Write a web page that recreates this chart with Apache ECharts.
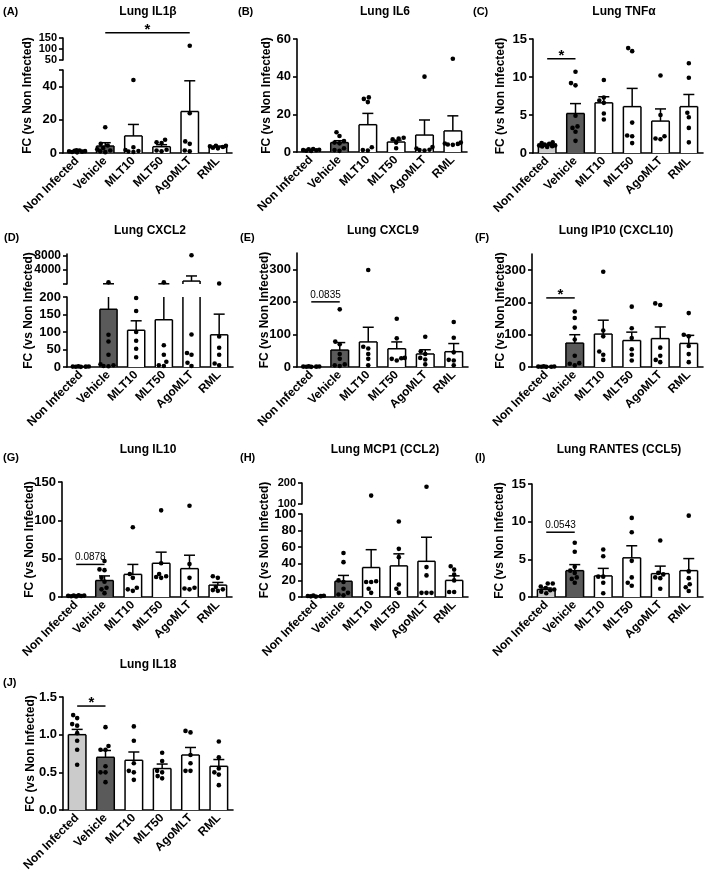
<!DOCTYPE html>
<html><head><meta charset="utf-8">
<script src="https://cdn.jsdelivr.net/npm/echarts@6/dist/echarts.min.js"></script>
<style>html,body{margin:0;padding:0;background:#fff;}#chart{width:709px;height:871px;}</style>
</head><body><div id="chart"></div>
<script>
const categories = ['Non Infected', 'Vehicle', 'MLT10', 'MLT50', 'AgoMLT', 'RML'];

// (A) IL1β
const il1bMean = [1.0, 4.2, 10.3, 3.8, 25.0, 3.6];
const il1bSem = [0.3, 2.0, 6.9, 1.2, 18.5, 0.6];
const il1bPts = [[0.4, 0.6, 0.8, 1.0, 1.1, 1.3, 1.5, 1.6], [15.5, 5.5, 4.5, 3.0, 2.2, 1.5, 1.0, 0.5], [44, 3.5, 1.8, 1.2, 0.9, 0.6], [8.0, 6.5, 6.0, 2.0, 1.5, 1.0], [115, 24, 7, 5.5, 1.5, 1.0], [4.4, 4.3, 4.0, 3.6, 3.2, 2.8]];
const il1bTicksLow = [0, 20, 40, 50];
const il1bLabelsLow = [0, 20, 40];
const il1bTicksHigh = [50, 100, 150];
const il1bSig = {from: 1, to: 4, level: 174, text: '*'};

// (B) IL6
const il6Mean = [1.0, 5.0, 14.5, 5.3, 9.0, 11.2];
const il6Sem = [0.3, 1.0, 6.0, 1.0, 8.0, 8.0];
const il6Pts = [[0.5, 0.7, 0.9, 1.0, 1.2, 1.4, 1.6], [10.5, 8.5, 5.8, 5.0, 4.6, 2.0, 1.0, 0.6], [29, 28.2, 26.5, 2.5, 1.0, 0.8], [7.6, 7.2, 6.8, 5.0, 2.0], [40, 2.6, 1.8, 1.2, 1.0, 0.8], [49.5, 5.0, 4.5, 4.3, 4.0, 3.8]];
const il6Ticks = [0, 20, 40, 60];

// (C) TNFα
const tnfMean = [1.0, 5.2, 6.6, 6.1, 4.2, 6.1];
const tnfSem = [0.15, 1.3, 0.8, 2.4, 1.6, 1.6];
const tnfPts = [[1.4, 1.3, 1.2, 1.1, 1.0, 1.0, 0.9, 0.85, 0.8], [10.7, 9.2, 8.9, 4.9, 3.5, 3.3, 2.8, 1.6], [9.6, 7.3, 6.9, 6.6, 5.2, 4.4], [13.8, 13.4, 4.0, 2.3, 2.2, 1.3], [10.2, 5.0, 2.2, 1.9, 1.8], [11.8, 9.9, 5.3, 4.7, 3.3, 1.4]];
const tnfTicks = [0, 5, 10, 15];
const tnfSig = {from: 0, to: 1, level: 12.4, text: '*'};

// (D) CXCL2
const cxcl2Mean = [1.0, 165, 105, 135, 1000, 92];
const cxcl2Sem = [0.5, 95, 27, 125, 1400, 59];
const cxcl2Pts = [[0.5, 0.8, 1.0, 1.2, 1.5, 1.8], [650, 92, 73, 35, 8, 5, 3, 2], [197, 160, 100, 75, 52, 28], [650, 62, 35, 15, 5, 3], [8050, 93, 40, 35, 12, 3], [350, 87, 55, 35, 10, 5]];
const cxcl2TicksLow = [0, 50, 100, 150, 200];
const cxcl2TicksHigh = [200, 4000, 8000];
const cxcl2LabelsHigh = [4000, 8000];

// (E) CXCL9
const cxcl9Mean = [1.0, 52, 77, 56, 40, 47];
const cxcl9Sem = [0.5, 23, 45, 21, 13, 25];
const cxcl9Pts = [[0.5, 0.8, 1.0, 1.2, 1.5, 1.8], [177, 78, 70, 40, 25, 8, 5, 3], [298, 62, 57, 40, 25, 5], [148, 88, 28, 27, 25, 20], [93, 48, 40, 28, 23, 8], [138, 90, 45, 22, 20, 5]];
const cxcl9Ticks = [0, 100, 200, 300];
const cxcl9Sig = {from: 0, to: 1, level: 200, text: '0.0835'};

// (F) IP10
const ip10Mean = [1.0, 74, 102, 82, 88, 73];
const ip10Sem = [0.5, 26, 43, 26, 36, 25];
const ip10Pts = [[0.5, 0.8, 1.0, 1.2, 1.5, 1.8], [172, 152, 122, 85, 35, 12, 10, 5], [295, 113, 95, 48, 38, 22], [187, 120, 90, 55, 38, 20], [197, 192, 60, 35, 22, 15], [167, 100, 95, 65, 40, 15]];
const ip10Ticks = [0, 100, 200, 300];
const ip10Sig = {from: 0, to: 1, level: 214, text: '*'};

// (G) IL10
const il10Mean = [1.5, 21.5, 29.5, 44, 37, 15.5];
const il10Sem = [0.5, 6, 13, 14.5, 17.5, 3.5];
const il10Pts = [[0.8, 1.0, 1.3, 1.5, 1.8, 2.0, 2.3], [47, 36, 35, 25, 20, 12, 10, 5], [91, 30, 25, 12, 10, 8], [113, 44, 30, 27, 26, 25], [119, 43, 25, 12, 11, 10], [27, 25, 13, 10, 9, 8]];
const il10Ticks = [0, 50, 100, 150];
const il10Sig = {from: 0, to: 1, level: 42.5, text: '0.0878'};

// (H) MCP1
const mcp1Mean = [1.0, 19, 35.5, 37.5, 43, 20];
const mcp1Sem = [0.3, 7, 21.5, 14.5, 29, 5.5];
const mcp1Pts = [[0.5, 0.8, 1.0, 1.2, 1.5, 1.8], [53, 42, 20, 18, 10, 5, 3, 2], [140, 19, 18, 18, 10, 5], [91, 58, 48, 15, 10, 5], [182, 36, 26, 5, 5, 5], [37, 33, 27, 20, 6, 6]];
const mcp1TicksLow = [0, 20, 40, 60, 80, 100];
const mcp1TicksHigh = [100, 150, 200];

// (I) RANTES
const rantesMean = [1.0, 3.5, 2.8, 5.2, 3.1, 3.5];
const rantesSem = [0.2, 0.8, 1.0, 1.6, 1.0, 1.6];
const rantesPts = [[1.8, 1.8, 1.4, 1.2, 1.0, 0.9, 0.7, 0.5], [7.2, 6.0, 4.0, 3.5, 3.2, 2.6, 2.4, 1.9], [6.3, 5.4, 2.7, 2.7, 1.9, 0.5], [10.5, 8.6, 4.8, 2.6, 1.9, 1.5], [7.5, 3.2, 3.0, 2.6, 2.5, 1.1], [10.8, 3.4, 2.5, 1.7, 1.3, 0.8]];
const rantesTicks = [0, 5, 10, 15];
const rantesSig = {from: 0, to: 1, level: 8.6, text: '0.0543'};

// (J) IL18
const il18Mean = [1.0, 0.70, 0.66, 0.55, 0.73, 0.58];
const il18Sem = [0.07, 0.09, 0.11, 0.06, 0.10, 0.09];
const il18Pts = [[1.26, 1.22, 1.14, 1.12, 1.02, 0.92, 0.80, 0.60], [1.10, 0.85, 0.80, 0.80, 0.58, 0.50, 0.50, 0.37], [1.11, 0.92, 0.62, 0.52, 0.50, 0.40], [0.76, 0.65, 0.52, 0.50, 0.45, 0.42], [1.05, 1.03, 0.73, 0.62, 0.52, 0.52], [0.91, 0.70, 0.55, 0.50, 0.47, 0.33]];
const il18Ticks = [0, 0.5, 1.0, 1.5];
const il18Sig = {from: 0, to: 1, level: 1.38, text: '*'};

const yTitle = 'FC (vs Non Infected)';
const barColors = ['#cbcbcb', '#5a5a5a', '#ffffff', '#ffffff', '#ffffff', '#ffffff'];
const FONT = '"Liberation Sans", Arial, Helvetica, sans-serif';
const BAR_FRAC = 0.62;

// layout (pixel positions of each panel)
const panels = [
  {tag: '(A)', title: 'Lung IL1\u03b2', mean: il1bMean, sem: il1bSem, pts: il1bPts, sig: il1bSig,
   x0: 63, x1: 232, titleX: 148, titleY: 12, tagX: 3, tagY: 12, yTitleX: 28,
   segs: [{min: 0, max: 50, ticks: il1bTicksLow, labels: il1bLabelsLow, top: 70, bottom: 153, fs: 13},
          {min: 50, max: 150, ticks: il1bTicksHigh, labels: il1bTicksHigh, top: 38, bottom: 60, fs: 11}]},
  {tag: '(B)', title: 'Lung IL6', mean: il6Mean, sem: il6Sem, pts: il6Pts, sig: null,
   x0: 297, x1: 467, titleX: 385, titleY: 12, tagX: 238, tagY: 12, yTitleX: 267,
   segs: [{min: 0, max: 60, ticks: il6Ticks, labels: il6Ticks, top: 39, bottom: 152, fs: 13}]},
  {tag: '(C)', title: 'Lung TNF\u03b1', mean: tnfMean, sem: tnfSem, pts: tnfPts, sig: tnfSig,
   x0: 533, x1: 703, titleX: 624, titleY: 12, tagX: 473, tagY: 12, yTitleX: 501,
   segs: [{min: 0, max: 15, ticks: tnfTicks, labels: tnfTicks, top: 39, bottom: 153, fs: 13}]},
  {tag: '(D)', title: 'Lung CXCL2', mean: cxcl2Mean, sem: cxcl2Sem, pts: cxcl2Pts, sig: null,
   x0: 67, x1: 233, titleX: 150, titleY: 231, tagX: 4, tagY: 238, yTitleX: 29,
   segs: [{min: 0, max: 200, ticks: cxcl2TicksLow, labels: cxcl2TicksLow, top: 297, bottom: 367, fs: 13},
          {min: 200, max: 8400, ticks: cxcl2TicksHigh, labels: cxcl2LabelsHigh, top: 254, bottom: 284, fs: 12}]},
  {tag: '(E)', title: 'Lung CXCL9', mean: cxcl9Mean, sem: cxcl9Sem, pts: cxcl9Pts, sig: cxcl9Sig,
   x0: 297, x1: 468, titleX: 383, titleY: 231, tagX: 240, tagY: 238, yTitleX: 265,
   segs: [{min: 0, max: 350, ticks: cxcl9Ticks, labels: cxcl9Ticks, top: 253, bottom: 367, fs: 13}]},
  {tag: '(F)', title: 'Lung IP10 (CXCL10)', mean: ip10Mean, sem: ip10Sem, pts: ip10Pts, sig: ip10Sig,
   x0: 532, x1: 703, titleX: 616, titleY: 231, tagX: 475, tagY: 238, yTitleX: 501,
   segs: [{min: 0, max: 350, ticks: ip10Ticks, labels: ip10Ticks, top: 254, bottom: 367, fs: 13}]},
  {tag: '(G)', title: 'Lung IL10', mean: il10Mean, sem: il10Sem, pts: il10Pts, sig: il10Sig,
   x0: 62, x1: 232, titleX: 148, titleY: 450, tagX: 3, tagY: 458, yTitleX: 30,
   segs: [{min: 0, max: 150, ticks: il10Ticks, labels: il10Ticks, top: 482, bottom: 597, fs: 13}]},
  {tag: '(H)', title: 'Lung MCP1 (CCL2)', mean: mcp1Mean, sem: mcp1Sem, pts: mcp1Pts, sig: null,
   x0: 302, x1: 468, titleX: 385, titleY: 450, tagX: 240, tagY: 458, yTitleX: 265,
   segs: [{min: 0, max: 100, ticks: mcp1TicksLow, labels: mcp1TicksLow, top: 514, bottom: 597, fs: 13},
          {min: 100, max: 200, ticks: mcp1TicksHigh, labels: mcp1TicksHigh, top: 483, bottom: 504, fs: 11}]},
  {tag: '(I)', title: 'Lung RANTES (CCL5)', mean: rantesMean, sem: rantesSem, pts: rantesPts, sig: rantesSig,
   x0: 532, x1: 703, titleX: 619, titleY: 450, tagX: 475, tagY: 458, yTitleX: 500,
   segs: [{min: 0, max: 15, ticks: rantesTicks, labels: rantesTicks, top: 484, bottom: 597, fs: 13}]},
  {tag: '(J)', title: 'Lung IL18', mean: il18Mean, sem: il18Sem, pts: il18Pts, sig: il18Sig, dec: 1,
   x0: 63, x1: 233, titleX: 148, titleY: 665, tagX: 3, tagY: 683, yTitleX: 31,
   segs: [{min: 0, max: 1.5, ticks: il18Ticks, labels: il18Ticks, top: 697, bottom: 810, fs: 13}]}
];

const R = 2.3, SPACING = 4.8, LIM = 8;
const CAND = [0];
for (let d = 0.5; d <= LIM; d += 0.5) { CAND.push(-d, d); }

function layoutGroup(api, vals, ci) {
  const items = vals.map(o => ({k: o.k, y: api.coord([ci, o.v])[1]}));
  items.sort((a, b) => b.y - a.y);
  const placed = [];
  const res = {};
  items.forEach(it => {
    let best = null, bestD = -1;
    for (const off of CAND) {
      let md = Infinity;
      for (const p of placed) {
        const d = Math.hypot(p.x - off, p.y - it.y);
        if (d < md) md = d;
      }
      if (md >= SPACING) { best = off; bestD = md; break; }
      if (md > bestD) { bestD = md; best = off; }
    }
    placed.push({x: best, y: it.y});
    res[it.k] = best;
  });
  return res;
}

function inSeg(v, seg, si) {
  return si === 0 ? (v >= seg.min && v <= seg.max) : (v > seg.min && v <= seg.max);
}

function buildOption() {
  const grids = [], xAxes = [], yAxes = [], series = [], texts = [];
  panels.forEach(p => {
    const sigSeg = p.segs.length - 1;
    p.segs.forEach((seg, si) => {
      const g = grids.length;
      grids.push({left: p.x0, width: p.x1 - p.x0, top: seg.top, height: seg.bottom - seg.top, containLabel: false, outerBoundsMode: 'none'});
      xAxes.push({type: 'category', gridIndex: g, data: categories, show: si === 0, boundaryGap: true,
        axisLine: {show: true, onZero: false, lineStyle: {color: '#000', width: 1.6}},
        axisTick: {show: false}, splitLine: {show: false},
        axisLabel: {show: si === 0, interval: 0, rotate: 45, color: '#000', fontFamily: FONT, fontWeight: 'bold', fontSize: 12, margin: 6}});
      yAxes.push({type: 'value', gridIndex: g, min: seg.min, max: seg.max,
        axisLine: {show: true, onZero: false, lineStyle: {color: '#000', width: 1.6}},
        axisTick: {show: true, length: 4, lineStyle: {color: '#000', width: 1.6}, customValues: seg.ticks},
        axisLabel: {color: '#000', fontFamily: FONT, fontWeight: 'bold', fontSize: seg.fs, margin: 6, customValues: seg.labels,
          showMinLabel: true, showMaxLabel: true, hideOverlap: false,
          formatter: v => p.dec ? Number(v).toFixed(p.dec) : String(v)},
        splitLine: {show: false}});
      // bar fills (outline drawn by the error-bar series so clipped ends stay open)
      series.push({type: 'bar', xAxisIndex: g, yAxisIndex: g, barWidth: (BAR_FRAC * 100) + '%', clip: true, silent: true, z: 2,
        data: p.mean.map((m, i) => ({value: m > seg.min ? m : '-', itemStyle: {color: barColors[i], borderWidth: 0}}))});
      // bar outline + error bars (mean to mean + SEM)
      series.push({type: 'custom', xAxisIndex: g, yAxisIndex: g, clip: false, silent: true, z: 3,
        data: p.mean.map((m, i) => [i, m, m + p.sem[i]]),
        renderItem: (params, api) => {
          const cs = params.coordSys;
          const ci = api.value(0);
          const mv = api.value(1), tv = api.value(2);
          const a = api.coord([ci, mv]);
          const b = api.coord([ci, tv]);
          const top = cs.y, bot = cs.y + cs.height;
          const clampY = y => Math.min(Math.max(y, top), bot);
          const ch = [];
          const st = {stroke: '#000', lineWidth: 1.5};
          const hw = api.size([1, 0])[0] * BAR_FRAC / 2;
          if (mv > seg.min) {
            const yt = clampY(a[1]);
            ch.push({type: 'line', shape: {x1: a[0] - hw, y1: bot, x2: a[0] - hw, y2: yt}, style: st});
            ch.push({type: 'line', shape: {x1: a[0] + hw, y1: bot, x2: a[0] + hw, y2: yt}, style: st});
            if (mv <= seg.max) ch.push({type: 'line', shape: {x1: a[0] - hw, y1: a[1], x2: a[0] + hw, y2: a[1]}, style: st});
          }
          const ya = clampY(a[1]), yb = clampY(b[1]);
          if (ya - yb > 0.2) ch.push({type: 'line', shape: {x1: a[0], y1: ya, x2: a[0], y2: yb}, style: st});
          if (tv >= seg.min && tv <= seg.max) ch.push({type: 'line', shape: {x1: a[0] - 5.5, y1: b[1], x2: a[0] + 5.5, y2: b[1]}, style: st});
          return {type: 'group', children: ch};
        }});
      // points
      const pdata = [];
      p.pts.forEach((arr, ci) => arr.forEach((v, k) => { if (inSeg(v, seg, si)) pdata.push([ci, v, k]); }));
      series.push({type: 'custom', xAxisIndex: g, yAxisIndex: g, clip: false, silent: true, z: 4,
        data: pdata,
        renderItem: (params, api) => {
          const ci = api.value(0), v = api.value(1), k = api.value(2);
          const vals = [];
          p.pts[ci].forEach((vv, kk) => { if (inSeg(vv, seg, si)) vals.push({v: vv, k: kk}); });
          const lay = layoutGroup(api, vals, ci);
          const c = api.coord([ci, v]);
          return {type: 'circle', shape: {cx: c[0] + (lay[k] || 0), cy: c[1], r: R}, style: {fill: '#000'}};
        }});
      if (p.sig && si === sigSeg) {
        const s = p.sig;
        series.push({type: 'custom', xAxisIndex: g, yAxisIndex: g, clip: false, silent: true, z: 5,
          data: [[s.from, s.level, s.to]],
          renderItem: (params, api) => {
            const a = api.coord([api.value(0), api.value(1)]);
            const b = api.coord([api.value(2), api.value(1)]);
            const mid = (a[0] + b[0]) / 2;
            const star = s.text === '*';
            return {type: 'group', children: [
              {type: 'line', shape: {x1: a[0], y1: a[1], x2: b[0], y2: b[1]}, style: {stroke: '#000', lineWidth: 1.5}},
              {type: 'text', x: mid, y: star ? a[1] - 3 : a[1] - 2,
               style: {text: s.text, fill: '#000', font: (star ? 'bold 15px ' : '10px ') + FONT,
                 align: 'center', verticalAlign: star ? 'middle' : 'bottom', textAlign: 'center', textVerticalAlign: star ? 'middle' : 'bottom'}}
            ]};
          }});
      }
    });
    const yTop = Math.min(...p.segs.map(s => s.top));
    const yBot = Math.max(...p.segs.map(s => s.bottom));
    texts.push({type: 'text', x: p.titleX, y: p.titleY, silent: true,
      style: {text: p.title, fill: '#000', font: 'bold 12px ' + FONT, align: 'center', verticalAlign: 'middle', textAlign: 'center', textVerticalAlign: 'middle'}});
    texts.push({type: 'text', x: p.tagX, y: p.tagY, silent: true,
      style: {text: p.tag, fill: '#000', font: 'bold 11px ' + FONT, align: 'left', verticalAlign: 'middle', textAlign: 'left', textVerticalAlign: 'middle'}});
    texts.push({type: 'text', x: p.yTitleX, y: (yTop + yBot) / 2, rotation: Math.PI / 2, silent: true,
      style: {text: yTitle, fill: '#000', font: 'bold 12px ' + FONT, align: 'center', verticalAlign: 'middle', textAlign: 'center', textVerticalAlign: 'middle'}});
  });
  return {animation: false, backgroundColor: '#fff', grid: grids, xAxis: xAxes, yAxis: yAxes, series: series, graphic: {elements: texts}};
}

const chart = echarts.init(document.getElementById('chart'), null, {renderer: 'canvas'});
chart.setOption(buildOption());
</script></body></html>
